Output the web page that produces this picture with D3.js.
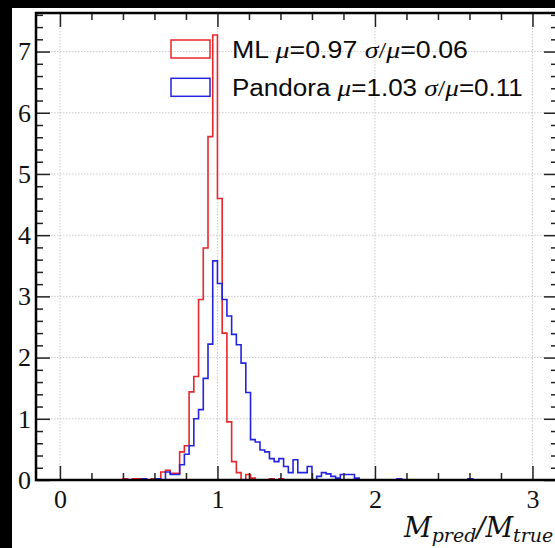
<!DOCTYPE html>
<html>
<head>
<meta charset="utf-8">
<script src="https://cdn.jsdelivr.net/npm/d3@7"></script>
<style>
  body { margin: 0; background: #000; }
  svg { display: block; }
</style>
</head>
<body>
<script>
// histogram binning (left edge of first bin, bin width)
var binStart = 0.37;
var binWidth = 0.03;

// bin heights, one per bin from 0.37 to 2.65
var mlHeights = [
    0, 0.02, 0, 0.02, 0.02, 0, 0, 0.02, 0, 0.13,
    0.16, 0.11, 0.11, 0.46, 0.56, 1.44, 1.69, 2.95, 3.79, 5.61,
    7.27, 4.60, 2.40, 0.95, 0.30, 0.12, 0, 0.09, 0.03, 0,
    0, 0, 0.02, 0, 0.02, 0, 0, 0, 0, 0,
    0, 0, 0, 0, 0, 0, 0, 0, 0, 0,
    0, 0, 0, 0, 0, 0, 0, 0, 0, 0,
    0, 0, 0, 0, 0, 0, 0, 0, 0, 0,
    0, 0, 0, 0, 0, 0
];
var pandoraHeights = [
    0, 0, 0, 0, 0, 0.02, 0, 0, 0.02, 0,
    0.13, 0.09, 0.09, 0.25, 0.42, 0.56, 1.00, 1.15, 1.66, 2.22,
    3.58, 3.21, 2.95, 2.68, 2.38, 2.21, 1.91, 1.43, 0.66, 0.62,
    0.49, 0.46, 0.35, 0.30, 0.35, 0.22, 0.12, 0.33, 0.12, 0.12,
    0.22, 0, 0.06, 0.12, 0.10, 0.06, 0.03, 0.09, 0.09, 0.09,
    0.03, 0, 0, 0, 0, 0, 0, 0, 0, 0.02,
    0, 0, 0, 0, 0, 0, 0, 0, 0, 0,
    0, 0, 0, 0, 0.02, 0
];

var xTicks = [0, 1, 2, 3];
var yTicks = [0, 1, 2, 3, 4, 5, 6, 7];
var seriesNames = ["ML", "Pandora"];
var seriesMu = ["0.97", "1.03"];
var seriesRel = ["0.06", "0.11"];
var seriesColors = ["#e8262b", "#2424e0"];

var svgWidth = 555;
var svgHeight = 548;

var axLeft = 36, axTop = 13, axRight = 558, axBottom = 480;

var svg = d3.select("body")
    .append("svg")
    .attr("width", svgWidth)
    .attr("height", svgHeight);

// black surround, white figure
svg.append("rect").attr("width", svgWidth).attr("height", svgHeight).attr("fill", "#000");
svg.append("rect")
    .attr("x", 12).attr("y", 8)
    .attr("width", svgWidth - 12).attr("height", svgHeight - 8)
    .attr("fill", "#fff");

var x = d3.scaleLinear().domain([-0.152, 3.162]).range([axLeft, axRight]);
var y = d3.scaleLinear().domain([0, 7.63]).range([axBottom, axTop]);

svg.append("defs").append("clipPath").attr("id", "axclip")
    .append("rect")
    .attr("x", axLeft).attr("y", axTop)
    .attr("width", axRight - axLeft).attr("height", axBottom - axTop);

// grid
var grid = svg.append("g").attr("clip-path", "url(#axclip)");
grid.selectAll(".gx").data(xTicks).enter().append("line")
    .attr("x1", d => x(d)).attr("x2", d => x(d))
    .attr("y1", axTop).attr("y2", axBottom)
    .attr("stroke", "#bdbdbd").attr("stroke-width", 0.8)
    .attr("stroke-dasharray", "1.5,1.5");
grid.selectAll(".gy").data(yTicks).enter().append("line")
    .attr("y1", d => y(d)).attr("y2", d => y(d))
    .attr("x1", axLeft).attr("x2", axRight)
    .attr("stroke", "#bdbdbd").attr("stroke-width", 0.8)
    .attr("stroke-dasharray", "1.5,1.5");

// step outlines
function stepPoints(heights) {
    var pts = [[binStart, 0]];
    heights.forEach(function (h, i) {
        pts.push([binStart + i * binWidth, h]);
        pts.push([binStart + (i + 1) * binWidth, h]);
    });
    pts.push([binStart + heights.length * binWidth, 0]);
    return pts;
}

var line = d3.line().x(d => x(d[0])).y(d => y(d[1]));

var histGroup = svg.append("g").attr("clip-path", "url(#axclip)");
[mlHeights, pandoraHeights].forEach(function (h, i) {
    histGroup.append("path")
        .attr("d", line(stepPoints(h)))
        .attr("fill", "none")
        .attr("stroke", seriesColors[i])
        .attr("stroke-width", 1.6)
        .attr("stroke-linejoin", "miter");
});

// ticks on all four sides, pointing in
var xMinor = d3.range(1, 16).map(d => d / 5).filter(d => d % 1 !== 0);
var yMinor = d3.range(1, 39).map(d => d / 5).filter(d => Math.abs(d - Math.round(d)) > 1e-9);

function styleAxis(g) {
    g.select(".domain").remove();
    g.selectAll(".tick line").attr("stroke", "#222").attr("stroke-width", 1.5);
}

var serif = "'Liberation Serif', 'Times New Roman', serif";

svg.append("g")
    .attr("transform", `translate(0, ${axBottom})`)
    .call(d3.axisBottom(x).tickValues(xMinor).tickSize(-7).tickFormat(""))
    .call(styleAxis);
var xAxisG = svg.append("g")
    .attr("transform", `translate(0, ${axBottom})`)
    .call(d3.axisBottom(x).tickValues(xTicks).tickSize(-14).tickPadding(10).tickFormat(d3.format("d")))
    .call(styleAxis);
xAxisG.attr("font-family", null).attr("font-size", null);
xAxisG.selectAll("text")
    .style("font-family", serif).style("font-size", "26px").attr("fill", "#111");

svg.append("g")
    .attr("transform", `translate(0, ${axTop})`)
    .call(d3.axisTop(x).tickValues(xMinor).tickSize(-7).tickFormat(""))
    .call(styleAxis);
svg.append("g")
    .attr("transform", `translate(0, ${axTop})`)
    .call(d3.axisTop(x).tickValues(xTicks).tickSize(-14).tickFormat(""))
    .call(styleAxis);

svg.append("g")
    .attr("transform", `translate(${axLeft}, 0)`)
    .call(d3.axisLeft(y).tickValues(yMinor).tickSize(-7).tickFormat(""))
    .call(styleAxis);
var yAxisG = svg.append("g")
    .attr("transform", `translate(${axLeft}, 0)`)
    .call(d3.axisLeft(y).tickValues(yTicks).tickSize(-14).tickPadding(5).tickFormat(d3.format("d")))
    .call(styleAxis);
yAxisG.attr("font-family", null).attr("font-size", null);
yAxisG.selectAll("text")
    .style("font-family", serif).style("font-size", "26px").attr("fill", "#111");

svg.append("g")
    .attr("transform", `translate(${axRight}, 0)`)
    .call(d3.axisRight(y).tickValues(yMinor).tickSize(-7).tickFormat(""))
    .call(styleAxis);
svg.append("g")
    .attr("transform", `translate(${axRight}, 0)`)
    .call(d3.axisRight(y).tickValues(yTicks).tickSize(-14).tickFormat(""))
    .call(styleAxis);

// frame
svg.append("rect")
    .attr("x", axLeft).attr("y", axTop)
    .attr("width", axRight - axLeft).attr("height", axBottom - axTop)
    .attr("fill", "none").attr("stroke", "#000").attr("stroke-width", 2.5);

// legend
var legendTargetWidths = [236, 291];
seriesNames.forEach(function (name, i) {
    var top = 40 + i * 38.3;
    svg.append("rect")
        .attr("x", 171).attr("y", top)
        .attr("width", 39).attr("height", 18)
        .attr("fill", "none")
        .attr("stroke", seriesColors[i])
        .attr("stroke-width", 1.5);

    var t = svg.append("text")
        .style("font-family", "'Liberation Sans', Arial, sans-serif")
        .style("font-size", "23px")
        .attr("fill", "#0a0a0a");
    t.append("tspan").text(name + " ");
    t.append("tspan").style("font-family", serif).style("font-style", "italic").style("font-size", "24px").text("\u03bc");
    t.append("tspan").text("=" + seriesMu[i] + " ");
    t.append("tspan").style("font-family", serif).style("font-style", "italic").style("font-size", "24px").text("\u03c3");
    t.append("tspan").style("font-family", serif).style("font-size", "24px").text("/");
    t.append("tspan").style("font-family", serif).style("font-style", "italic").style("font-size", "24px").text("\u03bc");
    t.append("tspan").text("=" + seriesRel[i]);
    var w = t.node().getComputedTextLength();
    var sx = legendTargetWidths[i] / w;
    t.attr("transform", `translate(232, ${top + 17.5}) scale(${sx}, 1)`);
});

// x label
var xl = svg.append("text")
    .attr("x", 404).attr("y", 537)
    .style("font-family", "'DejaVu Serif', serif")
    .style("font-style", "italic")
    .style("font-size", "27px")
    .attr("fill", "#111");
xl.append("tspan").text("M");
xl.append("tspan").style("font-size", "19px").attr("dy", 5).text("pred");
xl.append("tspan").attr("dy", -5).text("/M");
xl.append("tspan").style("font-size", "19px").attr("dy", 5).text("true");
</script>
</body>
</html>
